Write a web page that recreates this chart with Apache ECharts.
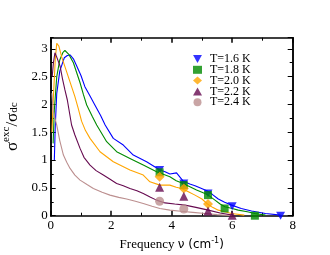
<!DOCTYPE html>
<html><head><meta charset="utf-8">
<script src="https://cdn.jsdelivr.net/npm/echarts@6/dist/echarts.min.js"></script>
<style>html,body{margin:0;padding:0;background:#fff}#c{width:330px;height:255px}</style>
</head><body><div id="c"></div>
<script>
// ---- data ----
const seriesNames = ['T=1.6 K','T=1.8 K','T=2.0 K','T=2.2 K','T=2.4 K'];

const blueX = [0.12,0.15,0.2,0.3,0.45,0.55,0.64,0.75,0.86,1.0,1.13,1.3,1.46,1.65,1.8,2.07,2.4,2.73,3.17,3.61,3.78,3.94,4.16,4.38,4.6,4.77,4.95,5.16,5.35,5.54,5.75,5.98,6.3,6.64,7.1,7.6];
const blueY = [1.0,1.6,2.2,2.6,2.84,2.88,2.89,2.82,2.69,2.52,2.32,2.15,1.99,1.80,1.63,1.39,1.27,1.09,0.97,0.82,0.79,0.75,0.77,0.62,0.57,0.54,0.50,0.45,0.38,0.30,0.24,0.19,0.13,0.085,0.04,0.01];

const greenX = [0.08,0.12,0.2,0.3,0.4,0.47,0.6,0.75,0.86,0.97,1.08,1.19,1.38,1.52,1.85,2.18,2.62,3.06,3.5,3.94,4.15,4.38,4.6,4.82,5.0,5.21,5.43,5.6,5.76,6.0,6.2,6.5,6.75,7.1];
const greenY = [1.3,1.9,2.5,2.8,2.93,2.97,2.9,2.75,2.57,2.39,2.18,1.99,1.78,1.63,1.33,1.15,1.03,0.91,0.79,0.70,0.63,0.58,0.52,0.46,0.42,0.37,0.28,0.21,0.16,0.13,0.10,0.07,0.04,0.01];

const orangeX = [0.04,0.09,0.15,0.2,0.27,0.36,0.47,0.58,0.69,0.8,0.91,1.02,1.15,1.3,1.63,2.07,2.62,3.06,3.28,3.61,3.94,4.15,4.33,4.55,4.77,5.0,5.16,5.35,5.54,5.75,5.98,6.4];
const orangeY = [1.5,2.14,2.8,3.1,3.05,2.86,2.68,2.50,2.32,2.14,1.93,1.70,1.53,1.39,1.15,0.97,0.82,0.73,0.61,0.55,0.55,0.51,0.49,0.43,0.37,0.30,0.22,0.15,0.10,0.07,0.04,0.01];

const purpleX = [0.05,0.09,0.14,0.2,0.31,0.39,0.47,0.55,0.69,0.8,0.97,1.1,1.3,1.5,1.74,1.95,2.18,2.4,2.62,2.85,3.06,3.3,3.5,3.78,4.1,4.44,4.8,5.21,5.6,6.0];
const purpleY = [2.5,2.75,2.93,2.85,2.69,2.46,2.26,2.08,1.63,1.45,1.21,1.05,0.91,0.81,0.73,0.66,0.58,0.54,0.49,0.45,0.40,0.33,0.28,0.23,0.21,0.19,0.15,0.10,0.05,0.01];

const pinkX = [0.04,0.08,0.14,0.2,0.3,0.42,0.53,0.64,0.8,0.97,1.2,1.41,1.7,1.96,2.25,2.51,2.8,3.06,3.35,3.61,3.94,4.3,4.7,5.1,5.5,6.0];
const pinkY = [2.2,1.9,1.75,1.63,1.35,1.09,0.96,0.85,0.73,0.64,0.56,0.49,0.42,0.37,0.33,0.30,0.26,0.22,0.17,0.13,0.10,0.08,0.06,0.04,0.02,0.0];

const blueMX = [3.6,4.4,5.2,6.0,7.6];     const blueMY = [0.82,0.58,0.40,0.17,0.0];
const greenMX = [3.6,4.4,5.2,5.75,6.75];  const greenMY = [0.78,0.55,0.37,0.13,0.0];
const orangeMX = [3.6,4.4,5.2];           const orangeMY = [0.70,0.49,0.21];
const purpleMX = [3.6,4.4,5.2,6.0];       const purpleMY = [0.51,0.35,0.085,0.01];
const pinkMX = [3.6,4.4];                 const pinkMY = [0.26,0.12];

const xTicks = [0,2,4,6,8];
const yTicks = [0,0.5,1,1.5,2,2.5,3];

// ---- styles ----
const colors = ['#0000ff','#008a00','#ffa500','#660a50','#bc8f8f'];
const downTri = 'path://M0,0 L10,0 L5,9 Z';
const symbols = [downTri,'rect','diamond','triangle','circle'];
const sizes = [[9,8],8,10,9,9];
const lineX = [blueX,greenX,orangeX,purpleX,pinkX];
const lineY = [blueY,greenY,orangeY,purpleY,pinkY];
const mX = [blueMX,greenMX,orangeMX,purpleMX,pinkMX];
const mY = [blueMY,greenMY,orangeMY,purpleMY,pinkMY];
const zip = (a,b)=>a.map((v,i)=>[v,b[i]]);

const serif = 'Liberation Serif';
const ax = {color:'#000', width:1.5};

function xAxis(pos, show){
  return {type:'value', position:pos, min:0, max:8, interval:2,
    axisLine:{show:true, onZero:false, lineStyle:ax},
    axisTick:{show:true, inside:true, length:5, lineStyle:ax},
    minorTick:{show:true, splitNumber:2, length:3, lineStyle:{color:'#000',width:1}},
    splitLine:{show:false},
    axisLabel:{show:show, margin:3, color:'#000', fontFamily:serif, fontSize:13,
      formatter:v=>xTicks.includes(v)?String(v):''}};
}
function yAxis(pos, show, interval, len){
  return {type:'value', position:pos, min:0, max:3.2, interval:interval,
    axisLine:{show:true, onZero:false, lineStyle:ax},
    axisTick:{show:true, inside:true, length:len, lineStyle:{color:'#000',width:1}},
    splitLine:{show:false},
    axisLabel:{show:show, margin:3, color:'#000', fontFamily:serif, fontSize:13, showMaxLabel:false,
      formatter:v=>yTicks.includes(v)?String(v):''}};
}

const xa0 = xAxis('bottom', true);
xa0.name = '{a|Frequency }{b|ν (cm}{c|-1}{b|)}';
xa0.nameLocation = 'middle';
xa0.nameGap = 19;
xa0.nameTextStyle = {rich:{
  a:{fontFamily:serif, fontSize:13, color:'#000'},
  b:{fontFamily:'DejaVu Sans', fontSize:12, color:'#000'},
  c:{fontFamily:'DejaVu Sans', fontSize:8, color:'#000', verticalAlign:'top', padding:[0,0,8,0]}
}};

const ya0 = yAxis('left', true, 0.5, 5);
ya0.name = '{a|σ}{c|exc}{a|/σ}{d|dc}';
ya0.nameLocation = 'middle';
ya0.nameGap = 13;
ya0.nameRotate = 90;
ya0.nameTextStyle = {rich:{
  a:{fontFamily:serif, fontSize:17, color:'#000'},
  c:{fontFamily:serif, fontSize:11, color:'#000', padding:[0,0,12,0]},
  d:{fontFamily:serif, fontSize:11, color:'#000', padding:[0,0,-5,0]}
}};

const series = [];
for(let i=0;i<5;i++){
  series.push({name:'line'+i, type:'line', data:zip(lineX[i],lineY[i]), showSymbol:false, symbol:'none',
    lineStyle:{color:colors[i], width:1.1}, z:2, animation:false, silent:true});
}
for(let i=0;i<5;i++){
  series.push({name:seriesNames[i], type:'scatter', data:zip(mX[i],mY[i]), symbol:symbols[i],
    symbolSize:sizes[i], itemStyle:{color:colors[i]}, z:3, animation:false, clip:false});
}

const chart = echarts.init(document.getElementById('c'), null, {renderer:'canvas'});
chart.setOption({
  animation:false,
  grid:{left:50.7, right:37.3, top:37.7, bottom:39.3, containLabel:false, outerBoundsMode:'none'},
  xAxis:[xa0, xAxis('top', false)],
  yAxis:[ya0, yAxis('right', false, 0.5, 5), yAxis('left', false, 0.25, 3), yAxis('right', false, 0.25, 3)],
  legend:{data:seriesNames, orient:'vertical', left:193, top:53, padding:0, itemWidth:9, itemHeight:8, itemGap:-1.2,
    textStyle:{fontFamily:serif, fontSize:12, lineHeight:10, color:'#000', padding:[0,0,0,3]}},
  series:series
});
</script></body></html>
